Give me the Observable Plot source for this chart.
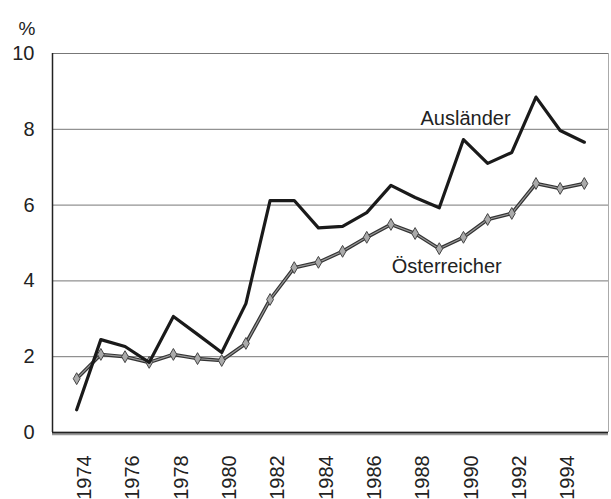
<!DOCTYPE html>
<html>
<head>
<meta charset="utf-8">
<script src="https://cdn.jsdelivr.net/npm/d3@7"></script>
<script src="https://cdn.jsdelivr.net/npm/@observablehq/plot@0.6"></script>
<style>
  html, body { margin: 0; padding: 0; background: #fff; }
  #chart { width: 611px; height: 499px; overflow: hidden; }
</style>
</head>
<body>
<div id="chart"></div>
<script>
const years = [1974, 1975, 1976, 1977, 1978, 1979, 1980, 1981, 1982, 1983, 1984,
               1985, 1986, 1987, 1988, 1989, 1990, 1991, 1992, 1993, 1994, 1995];
const auslaender = [0.6, 2.45, 2.27, 1.85, 3.06, 2.59, 2.11, 3.4, 6.12, 6.12, 5.4,
                    5.44, 5.8, 6.52, 6.2, 5.93, 7.73, 7.1, 7.39, 8.85, 7.97, 7.66];
const oesterreicher = [1.42, 2.06, 2.0, 1.85, 2.06, 1.95, 1.9, 2.35, 3.51, 4.35, 4.49,
                       4.78, 5.15, 5.49, 5.25, 4.85, 5.15, 5.62, 5.78, 6.57, 6.44, 6.57];
const xTicks = [1974, 1976, 1978, 1980, 1982, 1984, 1986, 1988, 1990, 1992, 1994];
const yTicks = [0, 2, 4, 6, 8, 10];
const gridValues = [2, 4, 6, 8, 10];
const labelAuslaender = [{text: "Ausländer", x: 1991.95, y: 8.28}];
const labelOesterreicher = [{text: "Österreicher", x: 1987.03, y: 4.38}];

const dataA = years.map((year, i) => ({year, value: auslaender[i]}));
const dataO = years.map((year, i) => ({year, value: oesterreicher[i]}));

const chart = Plot.plot({
  width: 611,
  height: 499,
  marginLeft: 52,
  marginRight: 3,
  marginTop: 53,
  marginBottom: 67,
  style: {fontFamily: "'Liberation Sans', Arial, sans-serif", fontSize: "20px", color: "#222", background: "#fff"},
  x: {domain: [1973, 1996]},
  y: {domain: [0, 10]},
  marks: [
    Plot.ruleY(gridValues, {stroke: "#777", strokeWidth: 1}),
    Plot.ruleX([1996], {stroke: "#aaa", strokeWidth: 1}),
    Plot.ruleY([0], {stroke: "#999", strokeWidth: 3.5, dy: 1}),
    Plot.ruleY([0], {stroke: "#222", strokeWidth: 1.5}),
    Plot.ruleX([1973], {stroke: "#222", strokeWidth: 1.5}),
    Plot.axisY({ticks: yTicks, tickSize: 0, tickPadding: 18, label: null, fontSize: 20}),
    Plot.axisX({ticks: xTicks, tickSize: 0, tickPadding: 45, rotate: -90, tickFormat: d => String(d), label: null, fontSize: 20}),
    Plot.lineY(dataO, {x: "year", y: "value", stroke: "#333", strokeWidth: 3.6}),
    Plot.lineY(dataO, {x: "year", y: "value", stroke: "#999", strokeWidth: 1.2}),
    Plot.dot(dataO, {x: "year", y: "value", symbol: "diamond", r: 3.6, fill: "#aaa", stroke: "#444", strokeWidth: 1}),
    Plot.lineY(dataA, {x: "year", y: "value", stroke: "#1a1a1a", strokeWidth: 3.2}),
    Plot.text(labelAuslaender, {x: "x", y: "y", text: "text", textAnchor: "end", fill: "#222", fontSize: 20}),
    Plot.text(labelOesterreicher, {x: "x", y: "y", text: "text", textAnchor: "start", fill: "#222", fontSize: 20}),
    Plot.text(["%"], {frameAnchor: "top-left", dx: -34, dy: -32, textAnchor: "start", fontSize: 19, fill: "#222"})
  ]
});
document.getElementById("chart").appendChild(chart);
</script>
</body>
</html>
